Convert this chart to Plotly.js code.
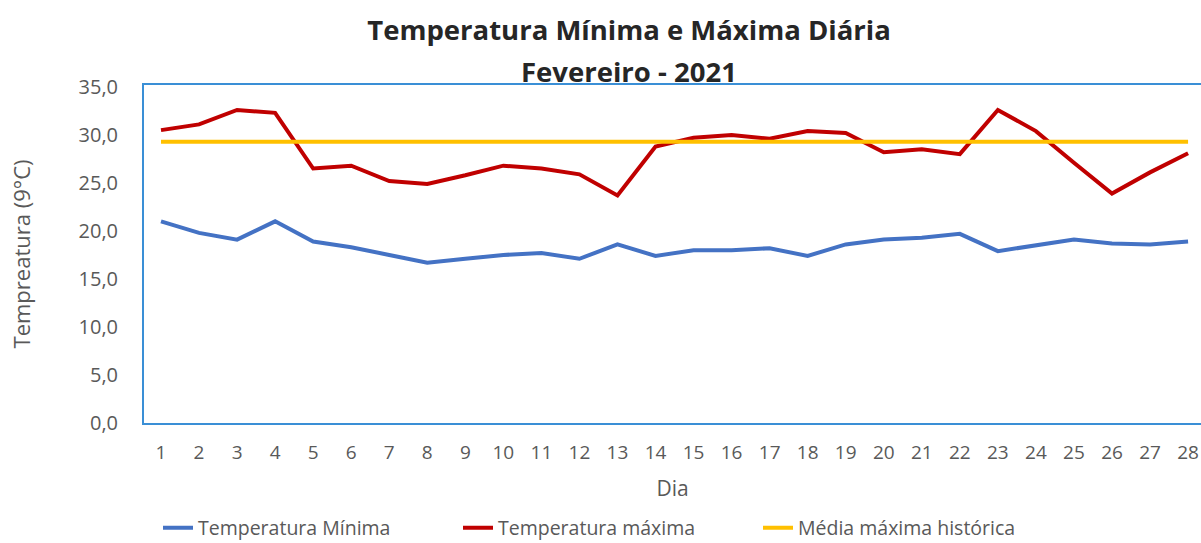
<!DOCTYPE html>
<html>
<head>
<meta charset="utf-8">
<script src="https://cdn.plot.ly/plotly-3.0.1.min.js"></script>
<style>
  html, body { margin: 0; padding: 0; background: #fff; }
  #graph { width: 1201px; height: 543px; }
</style>
</head>
<body>
<div id="graph"></div>
<script>
// dias do mes
const dias = [1,2,3,4,5,6,7,8,9,10,11,12,13,14,15,16,17,18,19,20,21,22,23,24,25,26,27,28];

// temperaturas
const tempMinima = [21.0,19.8,19.1,21.0,18.9,18.3,17.5,16.7,17.1,17.5,17.7,17.1,18.6,17.4,18.0,18.0,18.2,17.4,18.6,19.1,19.3,19.7,17.9,18.5,19.1,18.7,18.6,18.9];
const tempMaxima = [30.5,31.1,32.6,32.3,26.5,26.8,25.2,24.9,25.8,26.8,26.5,25.9,23.7,28.8,29.7,30.0,29.6,30.4,30.2,28.2,28.5,28.0,32.6,30.4,27.1,23.9,26.1,28.1];
const mediaHistorica = [29.3,29.3,29.3,29.3,29.3,29.3,29.3,29.3,29.3,29.3,29.3,29.3,29.3,29.3,29.3,29.3,29.3,29.3,29.3,29.3,29.3,29.3,29.3,29.3,29.3,29.3,29.3,29.3];

const yTicks = [0,5,10,15,20,25,30,35];

const cinza = '#595959';
const fonte = 'Open Sans, sans-serif';

const graph = document.getElementById('graph');

const traces = [
    {
        type: 'scatter',
        mode: 'lines',
        x: dias,
        y: tempMinima,
        name: 'Temperatura Mínima',
        line: {color: '#4472C4', width: 4}
    },
    {
        type: 'scatter',
        mode: 'lines',
        x: dias,
        y: tempMaxima,
        name: 'Temperatura máxima',
        line: {color: '#C00000', width: 4}
    },
    {
        type: 'scatter',
        mode: 'lines',
        x: dias,
        y: mediaHistorica,
        name: 'Média máxima histórica',
        line: {color: '#FFC000', width: 4}
    }
];

const layout = {
    width: 1201,
    height: 543,
    margin: {l: 144, r: 0, t: 85, b: 120},
    paper_bgcolor: '#fff',
    plot_bgcolor: '#fff',
    separators: ',.',
    font: {family: fonte, color: cinza, size: 20},
    title: {
        text: '<b>Temperatura Mínima e Máxima Diária</b>',
        font: {family: fonte, size: 27.5, color: '#262626'},
        xref: 'container', x: 629 / 1201, xanchor: 'center',
        yref: 'container', y: 1 - 30 / 543, yanchor: 'middle'
    },
    annotations: [{
        text: '<b>Fevereiro - 2021</b>',
        font: {family: fonte, size: 27.5, color: '#262626'},
        xref: 'paper', yref: 'paper',
        x: (629 - 144) / 1057, y: 1 + (85 - 72) / 338,
        xanchor: 'center', yanchor: 'middle',
        showarrow: false
    }],
    xaxis: {
        range: [0.553, 28.34],
        tickmode: 'array',
        tickvals: dias,
        ticktext: dias.map(String),
        showgrid: false,
        zeroline: false,
        showline: true,
        mirror: true,
        linecolor: '#3A8FD6',
        linewidth: 2,
        ticks: '',
        ticklabelstandoff: 11,
        tickfont: {size: 19, color: cinza},
        title: {text: 'Dia', font: {size: 21, color: cinza}, standoff: 18}
    },
    yaxis: {
        range: [0, 35.2],
        tickmode: 'array',
        tickvals: yTicks,
        tickformat: '.1f',
        showgrid: false,
        zeroline: false,
        showline: true,
        linecolor: '#3A8FD6',
        linewidth: 2,
        ticks: '',
        ticklabelstandoff: 20,
        tickfont: {size: 20, color: cinza},
        title: {text: 'Tempreatura (9°C)', font: {size: 22, color: cinza}, standoff: 42}
    },
    showlegend: true,
    legend: {
        orientation: 'h',
        xref: 'container', yref: 'container',
        x: 158 / 1201, xanchor: 'left',
        y: 15 / 543, yanchor: 'middle',
        entrywidth: 255,
        font: {size: 19.5, color: cinza},
        bgcolor: 'rgba(0,0,0,0)'
    }
};

const config = {displayModeBar: false, responsive: false};

Plotly.newPlot(graph, traces, layout, config);
</script>
</body>
</html>
